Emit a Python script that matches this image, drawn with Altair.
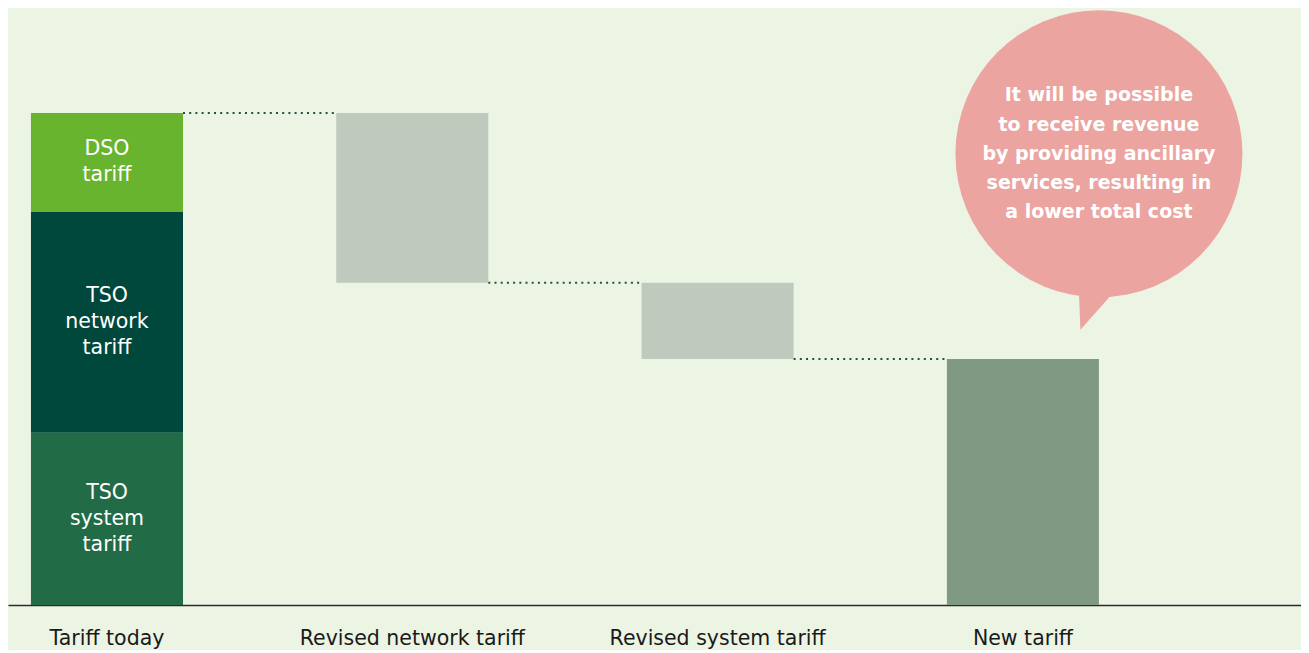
import altair as alt
import pandas as pd

# ---- data ----
categories = ["Tariff today", "Revised network tariff", "Revised system tariff", "New tariff"]
segment_names = ["TSO system tariff", "TSO network tariff", "DSO tariff"]
segment_values = [35, 45, 20]
segment_labels = [["TSO", "system", "tariff"], ["TSO", "network", "tariff"], ["DSO", "tariff"]]
step_changes = [-34.5, -15.5]          # revised network, revised system
new_total = 50
bubble_lines = ["It will be possible", "to receive revenue", "by providing ancillary",
                "services, resulting in", "a lower total cost"]
bubble_y = 91.7

colors_domain = segment_names + ["change", "new"]
colors_range = ["#226B47", "#00473C", "#69B42F", "#C0C9BE", "#809A82"]

# ---- build tables ----
rows = []
base = 0
for name, v, lab in zip(segment_names, segment_values, segment_labels):
    rows.append(dict(cat=categories[0], kind=name, y=base, y2=base + v, label=lab, mid=base + v / 2))
    base += v
total = base
levels = [total]
level = total
for c, d in zip(categories[1:3], step_changes):
    rows.append(dict(cat=c, kind="change", y=level + d, y2=level, label=[], mid=level + d / 2))
    level += d
    levels.append(level)
rows.append(dict(cat=categories[3], kind="new", y=0, y2=new_total, label=[], mid=new_total / 2))
bars = pd.DataFrame(rows)

conn = pd.DataFrame(dict(cat=categories[:3], nxt=categories[1:], lvl=levels))
bubble = pd.DataFrame([dict(cat=categories[3], y=bubble_y, txt=bubble_lines)])

FONT = "DejaVu Sans"
xscale = alt.Scale(domain=categories, paddingInner=0.502, paddingOuter=0.3685, align=0.102)
yscale = alt.Scale(domain=[0, 121.34], nice=False, zero=True)

x_axis = alt.Axis(title=None, labelAngle=0, labelFontSize=20.5, labelFont=FONT, labelColor="#1a1a1a",
                  ticks=False, domainColor="#2b2b2b", domainWidth=1.5, labelPadding=23,
                  labelLimit=0, grid=False)

bar_layer = alt.Chart(bars).mark_bar().encode(
    x=alt.X("cat:N", scale=xscale, axis=x_axis, sort=categories),
    y=alt.Y("y:Q", scale=yscale, axis=None),
    y2="y2:Q",
    color=alt.Color("kind:N", scale=alt.Scale(domain=colors_domain, range=colors_range), legend=None),
)

LH = 26
text_layers = []
for name, lab in zip(segment_names, segment_labels):
    sub = bars[bars["kind"] == name]
    text_layers.append(
        alt.Chart(sub).mark_text(
            color="white", font=FONT, fontSize=20.5, lineHeight=LH, baseline="middle", align="center",
            dy=-(len(lab) - 1) * LH / 2
        ).encode(
            x=alt.X("cat:N", scale=xscale, sort=categories),
            y=alt.Y("mid:Q", scale=yscale),
            text="label",
        )
    )

conn_layer = alt.Chart(conn).mark_rule(
    color="#1A5546", strokeDash=[2, 4.2], strokeWidth=2
).encode(
    x=alt.X("cat:N", scale=xscale, sort=categories, bandPosition=1),
    x2=alt.X2("nxt:N", bandPosition=0),
    y=alt.Y("lvl:Q", scale=yscale),
)

diam = 287
circle = alt.Chart(bubble).mark_point(
    shape="circle", filled=True, color="#EBA49F", opacity=1, size=diam * diam, strokeWidth=0
).encode(
    x=alt.X("cat:N", scale=xscale, sort=categories, bandPosition=1),
    y=alt.Y("y:Q", scale=yscale),
)
tail = alt.Chart(bubble).mark_point(
    shape="M -0.14 0.95 L -0.129 1.226 L 0.115 0.95 Z", filled=True, color="#EBA49F", opacity=1,
    size=diam * diam, strokeWidth=0
).encode(
    x=alt.X("cat:N", scale=xscale, sort=categories, bandPosition=1),
    y=alt.Y("y:Q", scale=yscale),
)
BLH = 29.3
btext = alt.Chart(bubble).mark_text(
    color="white", font=FONT, fontSize=19, fontWeight="bold", lineHeight=BLH,
    baseline="middle", align="center", dy=-(len(bubble_lines) - 1) * BLH / 2
).encode(
    x=alt.X("cat:N", scale=xscale, sort=categories, bandPosition=1),
    y=alt.Y("y:Q", scale=yscale),
    text="txt",
)

chart = alt.layer(bar_layer, *text_layers, conn_layer, circle, tail, btext).properties(
    width=1293, height=597,
    padding={"left": 0, "top": 0, "right": 0, "bottom": 45},
    autosize=alt.AutoSizeParams(type="none"),
    background="#ECF4E4",
).configure_view(stroke=None)

chart.save("out.html", embed_options={"renderer": "svg", "actions": False})
